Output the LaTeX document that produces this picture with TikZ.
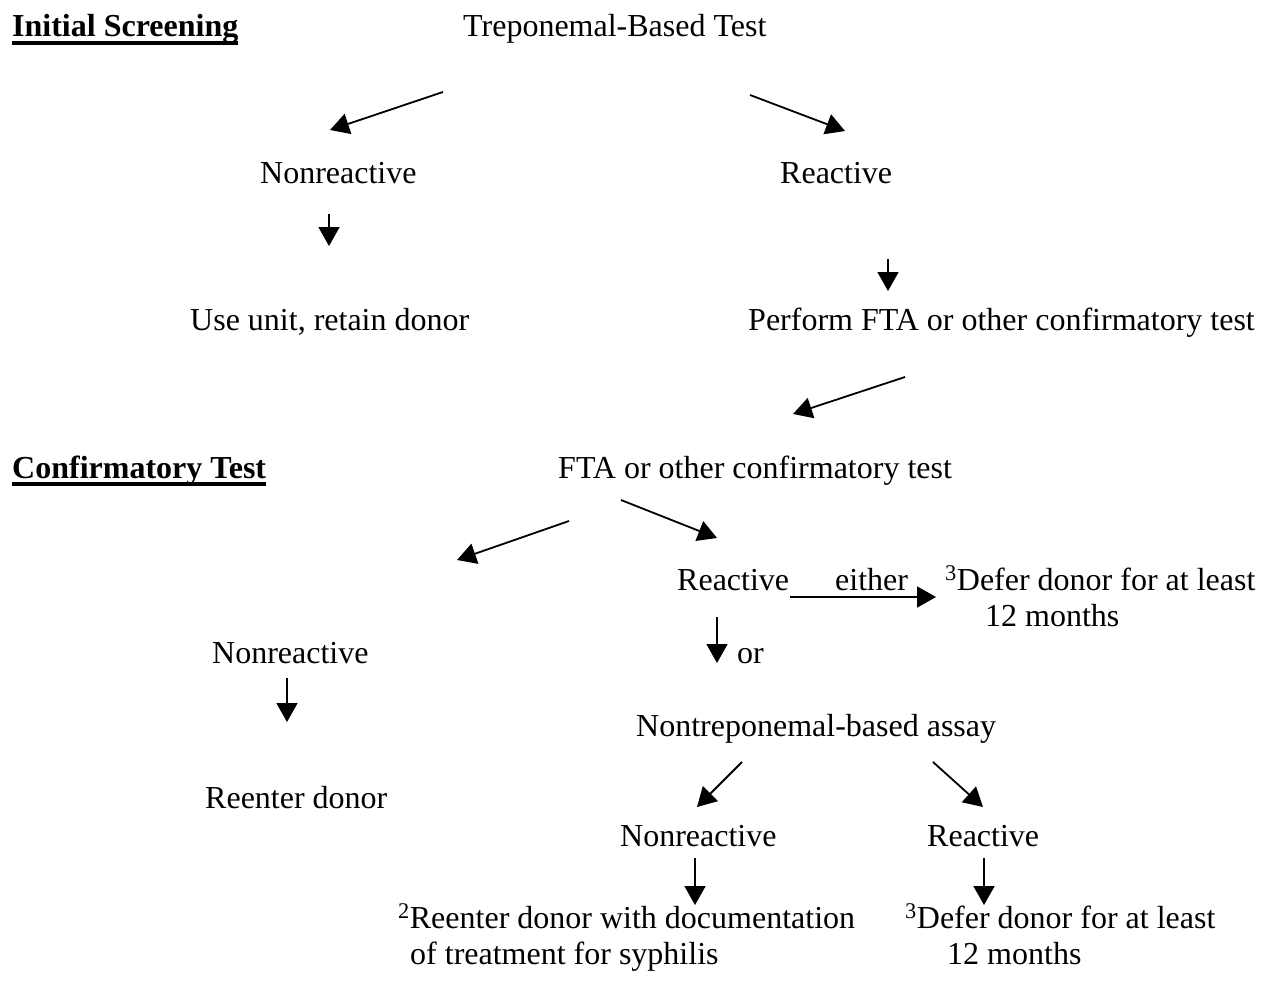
\documentclass[tikz,border=0pt]{standalone}
\usepackage{fontspec}
\setmainfont{Liberation Serif}
\usetikzlibrary{arrows.meta}
\begin{document}
\begin{tikzpicture}[x=1pt,y=-1pt,
  txt/.style={inner sep=0pt, anchor=base west, align=left, font=\fontsize{32}{36}\selectfont},
  head/.style={txt, font=\fontsize{32}{36}\selectfont\bfseries},
  arr/.style={line width=1.8pt, -{Triangle[length=19pt,width=21pt]}},
  uline/.style={line width=3.5pt}]
\useasboundingbox (0,0) rectangle (1263,998);

% headings
\node[head] (h1) at (12,37) {Initial Screening};
\draw[uline] ([yshift=-6pt]h1.base west) -- ([yshift=-6pt]h1.base east);
\node[head] (h2) at (12,478) {Confirmatory Test};
\draw[uline] ([yshift=-6pt]h2.base west) -- ([yshift=-6pt]h2.base east);

% texts (multi-line nodes: base = last line)
\node[txt] (t1) at (463,37) {Treponemal-Based Test};
\node[txt] (n1) at (260,183) {Nonreactive};
\node[txt] (r1) at (780,183) {Reactive};
\node[txt] (u1) at (190,330) {Use unit, retain donor};
\node[txt] (p1) at (748,330) {Perform FTA or other confirmatory test};
\node[txt] (f1) at (558,478) {FTA or other confirmatory test};
\node[txt] (r2) at (677,590) {Reactive};
\node[txt] (ei) at (835,590) {either};
\node[txt] (d1) at (945,626) {\textsuperscript{3}Defer donor for at least\\\hspace*{40pt}12 months};
\node[txt] (n2) at (212,663) {Nonreactive};
\node[txt] (or) at (737,663) {or};
\node[txt] (re) at (205,808) {Reenter donor};
\node[txt] (nt) at (636,736) {Nontreponemal-based assay};
\node[txt] (n3) at (620,846) {Nonreactive};
\node[txt] (r3) at (927,846) {Reactive};
\node[txt] (d2) at (398,964) {\textsuperscript{2}Reenter donor with documentation\\\hspace*{12pt}of treatment for syphilis};
\node[txt] (d3) at (905,964) {\textsuperscript{3}Defer donor for at least\\\hspace*{42pt}12 months};

% arrow end points
\coordinate (a1s) at (443,92);  \coordinate (a1e) at (330,130);
\coordinate (a2s) at (750,95);  \coordinate (a2e) at (845,131);
\coordinate (a3s) at (329,214); \coordinate (a3e) at (329,246);
\coordinate (a4s) at (888,259); \coordinate (a4e) at (888,291);
\coordinate (a5s) at (905,377); \coordinate (a5e) at (793,414);
\coordinate (a6s) at (569,521); \coordinate (a6e) at (457,560);
\coordinate (a7s) at (621,500); \coordinate (a7e) at (717,538);
\coordinate (a8s) at (790,597); \coordinate (a8e) at (936,597);
\coordinate (a9s) at (717,617); \coordinate (a9e) at (717,663);
\coordinate (b1s) at (287,678); \coordinate (b1e) at (287,722);
\coordinate (b2s) at (742,762); \coordinate (b2e) at (697,807);
\coordinate (b3s) at (933,762); \coordinate (b3e) at (983,807);
\coordinate (b4s) at (695,858); \coordinate (b4e) at (695,905);
\coordinate (b5s) at (984,858); \coordinate (b5e) at (984,905);

\foreach \s/\e in {a1s/a1e,a2s/a2e,a3s/a3e,a4s/a4e,a5s/a5e,a6s/a6e,a7s/a7e,a8s/a8e,a9s/a9e,b1s/b1e,b2s/b2e,b3s/b3e,b4s/b4e,b5s/b5e}
  \draw[arr] (\s) -- (\e);
\end{tikzpicture}
\end{document}
